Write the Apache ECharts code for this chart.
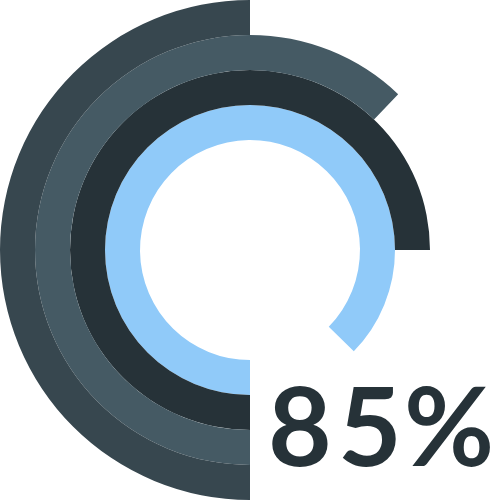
<!DOCTYPE html>
<html>
<head>
<meta charset="utf-8">
<script src="https://cdn.jsdelivr.net/npm/echarts@6/dist/echarts.min.js"></script>
<style>
  html, body { margin: 0; padding: 0; background: #fff; }
  #chart { width: 500px; height: 500px; }
</style>
</head>
<body>
<div id="chart"></div>
<script>
// rings from inner to outer
const rings = ['Blue', 'Dark', 'Slate', 'Outer'];
const ringValues = [87.3, 75, 62.1, 50];
const ringColors = ['#90CAF9', '#263238', '#455A64', '#37474F'];
const label = '85%';

const chart = echarts.init(document.getElementById('chart'));

// spread the label characters out a bit, like the original
const charLeft = [268, 338, 404];
const labelChars = label.split('').map((ch, i) => ({
  type: 'text',
  left: charLeft[i],
  top: 376,
  style: {
    text: ch,
    fill: '#263238',
    font: 'bold 110px Lato'
  }
}));

const options = {
  animation: false,
  polar: { center: ['50%', '50%'], radius: [110, 250] },
  angleAxis: {
    max: 100,
    startAngle: 270,
    clockwise: true,
    show: false
  },
  radiusAxis: {
    type: 'category',
    data: rings,
    show: false
  },
  series: [{
    type: 'bar',
    coordinateSystem: 'polar',
    barCategoryGap: '0%',
    data: ringValues.map((v, i) => ({ value: v, itemStyle: { color: ringColors[i] } }))
  }],
  graphic: labelChars
};

chart.setOption(options);
</script>
</body>
</html>
